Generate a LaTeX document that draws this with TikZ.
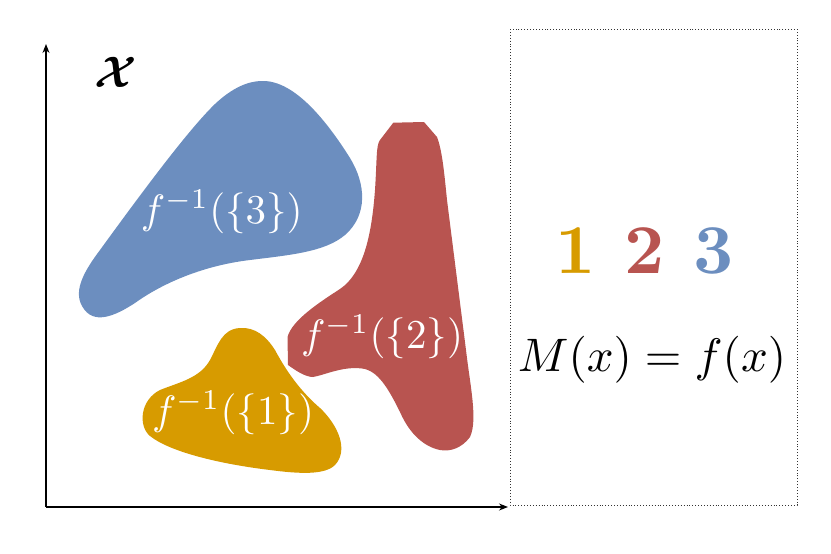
\documentclass[tikz,border=0pt]{standalone}
\usepackage{amsmath}
\usepackage{bm}
\usetikzlibrary{arrows.meta}
\definecolor{cblue}{HTML}{6C8EBF}
\definecolor{cred}{HTML}{B85450}
\definecolor{cyellow}{HTML}{D79B00}
\begin{document}
\begin{tikzpicture}[x=1pt,y=-1pt,
  lab/.style={text=white, scale=4.1, inner sep=0pt},
  axis/.style={line width=1.2pt, -{Stealth[length=9pt,width=7pt]}},
  digit/.style={scale=7, inner sep=0pt, font=\bfseries}]
\useasboundingbox (0,0) rectangle (831,554);
% blue
\fill[cblue] (262,81) .. controls (295,80) and (328,123) .. (350,158)
 .. controls (366,184) and (368,215) .. (345,235)
 .. controls (325,252) and (290,255) .. (250,260)
 .. controls (200,266) and (160,285) .. (135,303)
 .. controls (115,316) and (93,326) .. (82,306)
 .. controls (73,290) and (85,270) .. (100,250)
 .. controls (140,195) and (188,130) .. (215,104)
 .. controls (232,88) and (248,81) .. (262,81) -- cycle;
% red
\fill[cred] (380,140) -- (393.3,122.7) -- (424,122) -- (437,137)
 .. controls (442,150) and (444,170) .. (447,200)
 -- (466,350)
 .. controls (470,385) and (478,420) .. (470,437)
 .. controls (462,448) and (450,452) .. (440,450)
 .. controls (425,447) and (410,435) .. (400,412)
 .. controls (390,392) and (380,373) .. (365,369)
 .. controls (345,365) and (325,375) .. (313,377)
 .. controls (305,377) and (295,370) .. (288,365)
 -- (287.5,337)
 .. controls (292,320) and (320,302) .. (340,289)
 .. controls (365,272) and (372,230) .. (375,190)
 .. controls (377,160) and (376,145) .. (380,140) -- cycle;
% yellow
\fill[cyellow] (240,328) .. controls (255,327) and (266,336) .. (275,350)
 .. controls (290,378) and (305,395) .. (320,408)
 .. controls (338,425) and (349,450) .. (335,465)
 .. controls (325,475) and (300,474) .. (270,470)
 .. controls (220,464) and (170,452) .. (150,436)
 .. controls (138,426) and (140,400) .. (160,390)
 .. controls (180,382) and (200,378) .. (210,360)
 .. controls (218,345) and (222,329) .. (240,328) -- cycle;
% labels
\node[lab] (l3) at (221.7,211.7) {$f^{-1}(\{3\})$};
\node[lab] (l2) at (382,336.7) {$f^{-1}(\{2\})$};
\node[lab] (l1) at (233,413) {$f^{-1}(\{1\})$};
% axes
\coordinate (o) at (46,507);
\coordinate (yt) at (46,44);
\coordinate (xt) at (508,507);
\draw[axis] (o) -- (yt);
\draw[axis] (o) -- (xt);
\node[scale=4.4, inner sep=0pt] (X) at (116,72) {$\bm{\mathcal{X}}$};
% box
\draw[dotted, line width=0.9pt, black!80] (510,29) rectangle (797,505);
\node[digit, text=cyellow] (d1) at (576,251) {1};
\node[digit, text=cred] (d2) at (645,251) {2};
\node[digit, text=cblue] (d3) at (714,251) {3};
\node[scale=4.7, inner sep=0pt] (M) at (652,360) {$M(x)=f(x)$};
\end{tikzpicture}
\end{document}
